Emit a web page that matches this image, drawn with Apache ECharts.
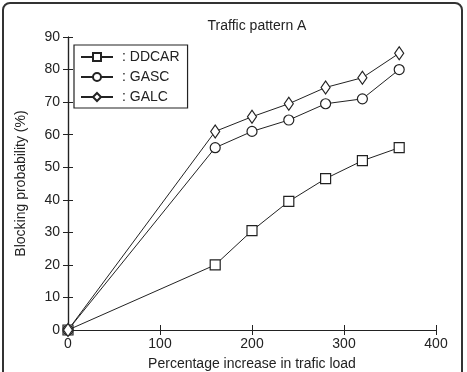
<!DOCTYPE html>
<html>
<head>
<meta charset="utf-8">
<script src="https://cdn.jsdelivr.net/npm/echarts@6/dist/echarts.min.js"></script>
<style>
  html, body { margin: 0; padding: 0; background: #fff; }
  #frame {
    position: absolute; left: 2px; top: 2px; width: 461px; height: 380px;
    border: 2px solid #333; border-radius: 8px; box-sizing: border-box;
  }
  #chart { position: absolute; left: 0; top: 0; width: 467px; height: 372px; }
</style>
</head>
<body>
<div id="frame"></div>
<div id="chart"></div>
<script>
// 流量负载增加百分比
const loadX = [0, 160, 200, 240, 280, 320, 360];
const ddcar = [0, 20, 30.5, 39.5, 46.5, 52, 56];
const gasc = [0, 56, 61, 64.5, 69.5, 71, 80];
const galc = [0, 61, 65.5, 69.5, 74.5, 77.5, 85];

const xTicks = [0, 100, 200, 300, 400];
const yTicks = [0, 10, 20, 30, 40, 50, 60, 70, 80, 90];

const font = 'Liberation Sans, Arial, sans-serif';
const ink = '#222';
const diamond = 'path://M0,-1L0.6,0L0,1L-0.6,0Z';

const pairs = (ys) => loadX.map((x, i) => [x, ys[i]]);

const mkSeries = (name, ys, symbol, size) => ({
  name: name,
  type: 'line',
  data: pairs(ys),
  symbol: symbol,
  symbolSize: size,
  showAllSymbol: true,
  lineStyle: { color: ink, width: 1 },
  itemStyle: { color: '#fff', borderColor: ink, borderWidth: 1.2 },
  emphasis: { disabled: true },
  animation: false
});

const axisCommon = {
  axisLine: { show: true, lineStyle: { color: ink, width: 1.2 } },
  axisTick: { show: true, inside: true, length: 5, lineStyle: { color: ink } },
  splitLine: { show: false }
};

const chart = echarts.init(document.getElementById('chart'));
chart.setOption({
  animation: false,
  title: {
    text: 'Traffic pattern A',
    left: 252, top: 14, textAlign: 'center',
    textStyle: { fontFamily: font, fontSize: 14, fontWeight: 'normal', color: ink }
  },
  grid: { left: 68, right: 31, top: 37, bottom: 42, outerBoundsMode: 'none' },
  legend: {
    left: 74, top: 45, orient: 'vertical',
    padding: [5, 8, 4, 6], itemGap: 6,
    itemWidth: 32, itemHeight: 10,
    borderColor: ink, borderWidth: 1.2, borderRadius: 0,
    data: ['DDCAR', 'GASC', 'GALC'],
    formatter: (n) => ': ' + n,
    textStyle: { fontFamily: font, fontSize: 14, color: ink, padding: [0, 0, 0, 4] }
  },
  xAxis: [
    Object.assign({}, axisCommon, {
      type: 'value', min: 0, max: 400, interval: 100,
      name: 'Percentage increase in trafic load', nameLocation: 'middle', nameGap: 27,
      nameTextStyle: { fontFamily: font, fontSize: 14, color: ink },
      axisLabel: { fontFamily: font, fontSize: 14, color: ink, margin: 7,
        formatter: (v) => xTicks.includes(v) ? String(v) : '' }
    }),
    Object.assign({}, axisCommon, {
      type: 'value', min: 0, max: 400, interval: 100, position: 'top',
      axisLabel: { show: false }
    })
  ],
  yAxis: [
    Object.assign({}, axisCommon, {
      type: 'value', min: 0, max: 90, interval: 10,
      name: 'Blocking probability (%)', nameLocation: 'middle', nameGap: 40,
      nameTextStyle: { fontFamily: font, fontSize: 14, color: ink },
      axisLabel: { fontFamily: font, fontSize: 14, color: ink, margin: 8,
        formatter: (v) => yTicks.includes(v) ? String(v) : '' }
    }),
    Object.assign({}, axisCommon, {
      type: 'value', min: 0, max: 90, interval: 10, position: 'right',
      axisLabel: { show: false }
    })
  ],
  series: [
    mkSeries('DDCAR', ddcar, 'rect', 10),
    mkSeries('GASC', gasc, 'circle', 10),
    mkSeries('GALC', galc, diamond, [9, 13])
  ]
});
</script>
</body>
</html>
